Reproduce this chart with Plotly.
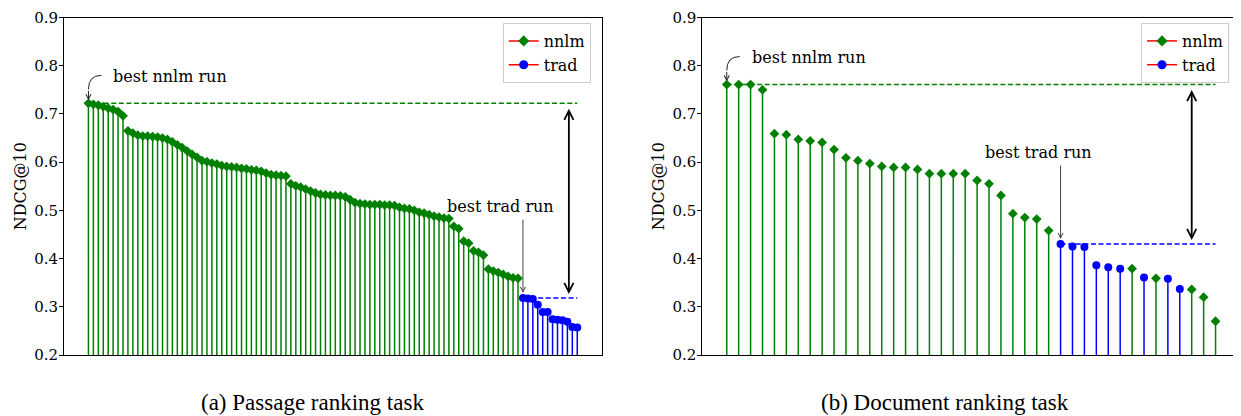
import plotly.graph_objects as go

# ---------------- data ----------------
passage_ndcg = [
    0.722, 0.720, 0.718, 0.715, 0.712, 0.709, 0.705, 0.696, 0.665, 0.660,
    0.656, 0.654, 0.654, 0.653, 0.652, 0.650, 0.647, 0.642, 0.636, 0.630,
    0.623, 0.616, 0.610, 0.603, 0.601, 0.598, 0.596, 0.593, 0.591, 0.590,
    0.589, 0.587, 0.586, 0.584, 0.583, 0.581, 0.577, 0.574, 0.573, 0.572,
    0.571, 0.555, 0.551, 0.548, 0.544, 0.540, 0.536, 0.533, 0.532, 0.531,
    0.531, 0.530, 0.528, 0.522, 0.516, 0.514, 0.513, 0.512, 0.512, 0.512,
    0.511, 0.511, 0.510, 0.506, 0.504, 0.503, 0.500, 0.496, 0.494, 0.491,
    0.488, 0.486, 0.484, 0.483, 0.467, 0.462, 0.436, 0.432, 0.416, 0.413,
    0.407, 0.378, 0.374, 0.371, 0.367, 0.363, 0.360, 0.359, 0.318, 0.317,
    0.316, 0.304, 0.289, 0.289, 0.274, 0.273, 0.272, 0.269, 0.258, 0.257,
]
passage_type = ["nnlm"] * 88 + ["trad"] * 12

document_ndcg = [
    0.761, 0.761, 0.761, 0.750, 0.659, 0.657, 0.647, 0.644, 0.641, 0.626,
    0.609, 0.603, 0.597, 0.591, 0.589, 0.589, 0.585, 0.576, 0.576, 0.576,
    0.576, 0.562, 0.555, 0.531, 0.493, 0.485, 0.482, 0.458, 0.430, 0.425,
    0.424, 0.386, 0.382, 0.379, 0.379, 0.361, 0.359, 0.358, 0.337, 0.336,
    0.320, 0.270,
]
document_type = (["nnlm"] * 28 + ["trad"] * 6 + ["nnlm", "trad", "nnlm", "trad", "trad"]
                 + ["nnlm"] * 3)

run_types = ["nnlm", "trad"]
captions = ["(a) Passage ranking task", "(b) Document ranking task"]
y_ticks = [0.2, 0.3, 0.4, 0.5, 0.6, 0.7, 0.8, 0.9]
y_title = "NDCG@10"

# ---------------- style / layout ----------------
W, H = 1241, 416
OFF = 8  # page body margin of the html page
Y_RANGE = [0.2, 0.9]
COLORS = {"nnlm": "#008000", "trad": "#0000ff"}
SYMBOLS = {"nnlm": "diamond", "trad": "circle"}
MSIZE = {"nnlm": 7.5, "trad": 8}
FONT = "DejaVu Serif"
CAP_FONT = "Liberation Serif"

PLOT_TOP, PLOT_BOT = 17.5, 355.0
PANELS_PX = [(64.0, 601.7), (702.3, 1240.0)]
CAPTION_X = [312, 945]
CAPTION_Y = 402
DOUBLE_ARROW_X = [97.3, 39.0]


def fx(px):
    return (px - OFF) / W


def fy(py):
    return 1 - (py - OFF) / H


datasets = [(passage_ndcg, passage_type), (document_ndcg, document_type)]

fig = go.Figure()
shapes, annotations = [], []
layout_axes = {}

for p, (vals, types) in enumerate(datasets):
    n = len(vals)
    xr = [-0.05 * (n - 1), (n - 1) * 1.05]
    px0, px1 = PANELS_PX[p]
    px_per_x = (px1 - px0) / (xr[1] - xr[0])
    px_per_y = (PLOT_BOT - PLOT_TOP) / (Y_RANGE[1] - Y_RANGE[0])
    xa = "x" if p == 0 else "x2"
    ya = "y" if p == 0 else "y2"
    lg = "legend" if p == 0 else "legend2"

    for t in run_types:
        idx = [i for i in range(n) if types[i] == t]
        sx, sy = [], []
        for i in idx:
            sx += [i, i, None]
            sy += [Y_RANGE[0], vals[i], None]
        fig.add_trace(go.Scatter(x=sx, y=sy, mode="lines", xaxis=xa, yaxis=ya,
                                 line=dict(color=COLORS[t], width=1.5),
                                 showlegend=False, hoverinfo="skip"))
        fig.add_trace(go.Scatter(x=idx, y=[vals[i] for i in idx], mode="markers",
                                 xaxis=xa, yaxis=ya, showlegend=False, name=t,
                                 marker=dict(color=COLORS[t], symbol=SYMBOLS[t],
                                             size=MSIZE[t], line=dict(width=0))))
    # legend entries
    for t in run_types:
        fig.add_trace(go.Scatter(x=[None], y=[None], mode="lines+markers", name=t,
                                 xaxis=xa, yaxis=ya, legend=lg,
                                 line=dict(color="red", width=1.5),
                                 marker=dict(color=COLORS[t], symbol=SYMBOLS[t],
                                             size=MSIZE[t] + 1)))

    best = {}
    for t in run_types:
        i = next(i for i in range(n) if types[i] == t)
        best[t] = (i, vals[i])

    # dashed reference lines
    for t in run_types:
        i, v = best[t]
        shapes.append(dict(type="line", xref=xa, yref=ya, x0=i, x1=n - 1, y0=v, y1=v,
                           line=dict(color=COLORS[t], width=1.5, dash="5px,2.6px")))

    # best nnlm: curved arrow + label
    bi, bv = best["nnlm"]

    def d(dx, dy):
        return bi + dx / px_per_x, bv - dy / px_per_y

    sx0, sy0 = d(13, -28)
    cx, cy = d(0, -28)
    ex, ey = d(0, -14)
    shapes.append(dict(type="path", xref=xa, yref=ya,
                       path=f"M{sx0},{sy0} Q{cx},{cy} {ex},{ey}",
                       line=dict(color="#222222", width=1)))
    annotations.append(dict(x=bi, y=bv, xref=xa, yref=ya, text="", showarrow=True,
                            ax=0, ay=-14, arrowhead=5, arrowwidth=1, arrowsize=1,
                            arrowcolor="#222222", standoff=3))
    annotations.append(dict(x=bi, y=bv, xref=xa, yref=ya, text="best nnlm run",
                            showarrow=False, xanchor="left", yanchor="middle",
                            xshift=23, yshift=27, font=dict(family=FONT, size=16, color="black")))

    # best trad: straight arrow + label
    ti, tv = best["trad"]
    annotations.append(dict(x=ti, y=tv, xref=xa, yref=ya, text="", showarrow=True,
                            ax=0, ay=-80, arrowhead=5, arrowwidth=1, arrowsize=1,
                            arrowcolor="#444444", standoff=5))
    annotations.append(dict(x=ti, y=tv, xref=xa, yref=ya, text="best trad run",
                            showarrow=False, xanchor="center", yanchor="middle",
                            xshift=-22, yshift=92, font=dict(family=FONT, size=16, color="black")))

    # double-headed gap arrow
    gx = DOUBLE_ARROW_X[p]
    annotations.append(dict(x=gx, y=tv, xref=xa, yref=ya, ax=gx, ay=bv,
                            axref=xa, ayref=ya, text="", showarrow=True,
                            arrowside="end+start", arrowhead=5, startarrowhead=5,
                            arrowwidth=1.8, arrowsize=1, startarrowsize=1,
                            arrowcolor="black", standoff=4, startstandoff=4))

    # caption
    annotations.append(dict(x=fx(CAPTION_X[p]), y=fy(CAPTION_Y), xref="paper", yref="paper",
                            text=captions[p], showarrow=False, xanchor="center",
                            yanchor="middle", font=dict(family=CAP_FONT, size=23, color="black")))

    xkey = "xaxis" if p == 0 else "xaxis2"
    ykey = "yaxis" if p == 0 else "yaxis2"
    layout_axes[xkey] = dict(domain=[fx(px0), fx(px1)], range=xr, showticklabels=False,
                             ticks="", showgrid=False, zeroline=False, showline=True,
                             mirror=True, linecolor="black", linewidth=1,
                             anchor=ya)
    layout_axes[ykey] = dict(domain=[fy(PLOT_BOT), fy(PLOT_TOP)], range=Y_RANGE,
                             tickvals=y_ticks, ticktext=[f"{v:.1f}" for v in y_ticks],
                             ticks="outside", ticklen=4, tickwidth=1, tickcolor="black",
                             ticklabelstandoff=-2, ticklabeloverflow="allow",
                             showgrid=False, zeroline=False, showline=True, mirror=True,
                             linecolor="black", linewidth=1, anchor=xa,
                             tickfont=dict(family=FONT, size=15, color="black"),
                             title=dict(text=y_title, standoff=3,
                                        font=dict(family=FONT, size=16, color="black")),
                             automargin=False)

    lkey = "legend" if p == 0 else "legend2"
    layout_axes[lkey] = dict(x=fx(px1 - 11), xanchor="right", y=fy(23), yanchor="top",
                             xref="paper", yref="paper",
                             bgcolor="rgba(255,255,255,0.8)", bordercolor="#cccccc",
                             borderwidth=1, font=dict(family=FONT, size=16, color="black"),
                             tracegroupgap=0, itemwidth=30)

fig.update_layout(width=W, height=H, margin=dict(l=0, r=0, t=0, b=0),
                  plot_bgcolor="white", paper_bgcolor="white",
                  shapes=shapes, annotations=annotations, **layout_axes)

fig.write_html("out.html")
